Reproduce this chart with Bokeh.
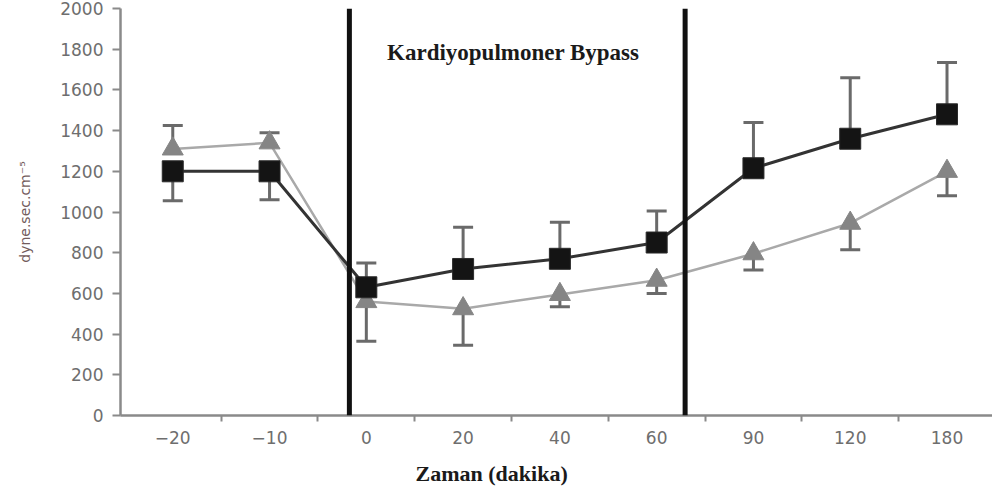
from bokeh.plotting import figure
from bokeh.models import FixedTicker, Span, Label, Title
from bokeh.embed import file_html
from bokeh.resources import INLINE

# ---- data ----
categories = ["\u221220", "\u221210", "0", "20", "40", "60", "90", "120", "180"]
square_values = [1200, 1200, 630, 720, 770, 850, 1215, 1360, 1480]
square_err_end = [1055, 1060, 750, 925, 950, 1005, 1440, 1660, 1735]
triangle_values = [1310, 1340, 560, 525, 595, 665, 795, 945, 1200]
triangle_err_end = [1425, 1390, 365, 345, 535, 600, 715, 815, 1080]
y_ticks = list(range(0, 2001, 200))
bypass_start = 1.825   # in category-index units
bypass_end = 5.294

x = list(range(len(categories)))

p = figure(width=992, height=497, x_range=(-0.54, 8.47), y_range=(0, 2000),
           output_backend="svg", toolbar_location=None,
           min_border_left=120, min_border_right=0, min_border_top=8, min_border_bottom=82)
p.outline_line_color = None
p.grid.visible = False
p.background_fill_color = "white"
p.border_fill_color = "white"

TICK_FONT = "DejaVu Sans"

# axes
xa = p.xaxis[0]
xa.ticker = FixedTicker(ticks=x, minor_ticks=[i + 0.5 for i in range(len(categories))])
xa.major_label_overrides = {i: c for i, c in enumerate(categories)}
xa.major_tick_out = 0
xa.major_tick_in = 0
xa.minor_tick_out = 6
xa.minor_tick_in = 0
xa.minor_tick_line_color = "#8a8a8a"
xa.minor_tick_line_width = 2
xa.axis_line_color = "#8a8a8a"
xa.axis_line_width = 2.5
xa.major_label_text_color = "#6e6e6e"
xa.major_label_text_font = TICK_FONT
xa.major_label_text_font_size = "17px"
xa.major_label_standoff = 9

ya = p.yaxis[0]
ya.ticker = FixedTicker(ticks=y_ticks)
ya.major_tick_out = 8
ya.major_tick_in = 0
ya.minor_tick_out = 0
ya.minor_tick_in = 0
ya.major_tick_line_color = "#8a8a8a"
ya.major_tick_line_width = 2
ya.axis_line_color = "#8a8a8a"
ya.axis_line_width = 2.5
ya.major_label_text_color = "#6e6e6e"
ya.major_label_text_font = TICK_FONT
ya.major_label_text_font_size = "17px"
ya.major_label_standoff = 9
ya.axis_label = "dyne.sec.cm\u207b\u2075"
ya.axis_label_text_font = TICK_FONT
ya.axis_label_text_font_style = "normal"
ya.axis_label_text_font_size = "14px"
ya.axis_label_text_color = "#735c5c"
ya.axis_label_standoff = 24

# bypass period lines
for loc in (bypass_start, bypass_end):
    p.add_layout(Span(location=loc, dimension="height", line_color="#111111", line_width=5))

# error bars
p.segment(x0=x, y0=triangle_values, x1=x, y1=triangle_err_end, line_color="#6a6a6a", line_width=3)
p.scatter(x, triangle_err_end, marker="dash", size=20, line_color="#6a6a6a", line_width=3)
p.segment(x0=x, y0=square_values, x1=x, y1=square_err_end, line_color="#6a6a6a", line_width=3)
p.scatter(x, square_err_end, marker="dash", size=20, line_color="#6a6a6a", line_width=3)

# series lines
p.line(x, triangle_values, line_color="#a9a9a9", line_width=2.5)
p.line(x, square_values, line_color="#333333", line_width=3)

# markers
p.scatter(x, triangle_values, marker="triangle", size=21, fill_color="#858585", line_color="#858585")
p.scatter(x, square_values, marker="square", size=21, fill_color="#141414", line_color="#2a2a2a", line_width=1)

p.add_layout(Label(x=3.518, y=1784, text="Kardiyopulmoner Bypass", text_font="Liberation Serif",
                   text_font_style="bold", text_font_size="23px", text_color="#1a1a1a",
                   text_align="center", text_baseline="middle"))

p.add_layout(Title(text="Zaman (dakika)", align="left", offset=295, text_font="Liberation Serif",
                   text_font_style="bold", text_font_size="22px", text_color="#1a1a1a",
                   standoff=24), "below")

open("out.html", "w").write(file_html(p, INLINE))
